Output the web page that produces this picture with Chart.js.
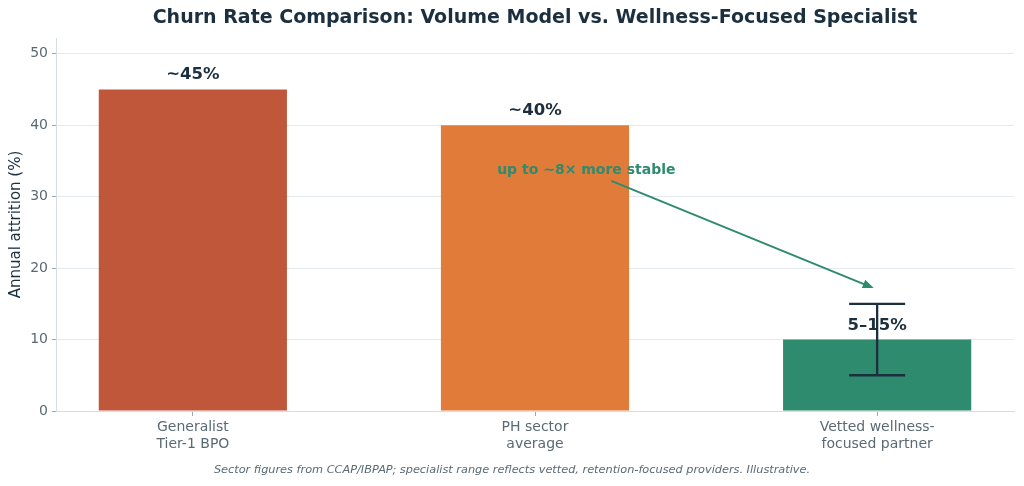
<!DOCTYPE html>
<html>
<head>
<meta charset="utf-8">
<script src="https://cdn.jsdelivr.net/npm/chart.js@4/dist/chart.umd.min.js"></script>
<style>
  html, body { margin: 0; padding: 0; background: #fff; }
  #wrap { width: 1024px; height: 486px; }
</style>
</head>
<body>
<div id="wrap"><canvas id="churnChart" width="1024" height="486"></canvas></div>
<script>
// chart data
const categories = [["Generalist", "Tier-1 BPO"], ["PH sector", "average"], ["Vetted wellness-", "focused partner"]];
const attrition = [45, 40, 10];
const barLabels = ["~45%", "~40%", "5\u201315%"];
const rangeLow = [null, null, 5];
const rangeHigh = [null, null, 15];
const barColors = ["#c0573b", "#e07b39", "#2e8b6e"];
const yTicks = [0, 10, 20, 30, 40, 50];

const titleText = "Churn Rate Comparison: Volume Model vs. Wellness-Focused Specialist";
const noteText = "Sector figures from CCAP/IBPAP; specialist range reflects vetted, retention-focused providers. Illustrative.";
const calloutText = "up to ~8\u00d7 more stable";
const calloutAt = {x: 1.15, y: 33.7};
const arrowFrom = {x: 1.223, y: 32.2};
const arrowTo = {x: 1.99, y: 17.2};

const dark = "#1b2f3f";
const green = "#2e8b6e";
const font = "'DejaVu Sans', sans-serif";

const extras = {
  id: "extras",
  afterDatasetsDraw(chart) {
    const ctx = chart.ctx;
    const xs = chart.scales.x, ys = chart.scales.y;
    ctx.save();
    // error bar for the specialist range
    for (let i = 0; i < attrition.length; i++) {
      if (rangeLow[i] == null) continue;
      const cx = xs.getPixelForValue(i);
      const yl = ys.getPixelForValue(rangeLow[i]);
      const yh = ys.getPixelForValue(rangeHigh[i]);
      ctx.strokeStyle = dark;
      ctx.lineWidth = 2.3;
      ctx.beginPath();
      ctx.moveTo(cx, yl); ctx.lineTo(cx, yh);
      ctx.moveTo(cx - 28, yl); ctx.lineTo(cx + 28, yl);
      ctx.moveTo(cx - 28, yh); ctx.lineTo(cx + 28, yh);
      ctx.stroke();
    }
    // value labels
    ctx.fillStyle = dark;
    ctx.font = "bold 16.5px " + font;
    ctx.textAlign = "center";
    ctx.textBaseline = "middle";
    for (let i = 0; i < attrition.length; i++) {
      ctx.fillText(barLabels[i], xs.getPixelForValue(i), ys.getPixelForValue(attrition[i] + 2));
    }
    // callout arrow
    const x1 = xs.getPixelForValue(arrowFrom.x), y1 = ys.getPixelForValue(arrowFrom.y);
    const x2 = xs.getPixelForValue(arrowTo.x), y2 = ys.getPixelForValue(arrowTo.y);
    const ang = Math.atan2(y2 - y1, x2 - x1);
    ctx.strokeStyle = green;
    ctx.fillStyle = green;
    ctx.lineWidth = 2;
    ctx.beginPath();
    ctx.moveTo(x1, y1);
    ctx.lineTo(x2 - 8 * Math.cos(ang), y2 - 8 * Math.sin(ang));
    ctx.stroke();
    ctx.beginPath();
    ctx.moveTo(x2, y2);
    ctx.lineTo(x2 - 11 * Math.cos(ang) + 4.5 * Math.sin(ang), y2 - 11 * Math.sin(ang) - 4.5 * Math.cos(ang));
    ctx.lineTo(x2 - 11 * Math.cos(ang) - 4.5 * Math.sin(ang), y2 - 11 * Math.sin(ang) + 4.5 * Math.cos(ang));
    ctx.closePath();
    ctx.fill();
    ctx.font = "bold 14px " + font;
    ctx.fillText(calloutText, xs.getPixelForValue(calloutAt.x), ys.getPixelForValue(calloutAt.y));
    // title and footnote
    ctx.fillStyle = dark;
    ctx.font = "bold 19px " + font;
    ctx.fillText(titleText, 535, 18);
    ctx.fillStyle = "#5a6a75";
    ctx.font = "italic 11.3px " + font;
    ctx.fillText(noteText, 512, 470);
    ctx.restore();
  }
};

new Chart(document.getElementById("churnChart"), {
  type: "bar",
  data: {
    datasets: [{
      data: attrition.map((v, i) => ({x: i, y: v})),
      backgroundColor: barColors,
      barPercentage: 0.55,
      categoryPercentage: 1.0
    }]
  },
  options: {
    responsive: false,
    animation: false,
    layout: {padding: {top: 38, right: 10, left: 7, bottom: 0}},
    plugins: {legend: {display: false}, tooltip: {enabled: false}, title: {display: false}},
    scales: {
      x: {
        type: "linear",
        offset: false,
        min: -0.4, max: 2.4,
        afterBuildTicks: s => { s.ticks = categories.map((c, i) => ({value: i})); },
        afterFit: s => { s.height = 75; },
        ticks: {
          callback: v => categories[v],
          color: "#5a6a75",
          font: {family: font, size: 14},
          padding: 3,
          maxRotation: 0
        },
        grid: {offset: false, drawOnChartArea: false, drawTicks: true, tickLength: 5, tickColor: "#9aa8b2"},
        border: {display: true, color: "#d5dde3"}
      },
      y: {
        min: 0, max: 52.2,
        afterBuildTicks: s => { s.ticks = yTicks.map(v => ({value: v})); },
        afterFit: s => { s.width = 49; },
        title: {display: true, text: "Annual attrition (%)", color: dark, font: {family: font, size: 15}, padding: {top: 0, bottom: 0}},
        ticks: {color: "#5a6a75", font: {family: font, size: 14}, padding: 4},
        grid: {color: "#e3e9ee", lineWidth: 1, tickLength: 4, tickColor: "#9aa8b2"},
        border: {display: true, color: "#d5dde3"}
      }
    }
  },
  plugins: [extras]
});
</script>
</body>
</html>
